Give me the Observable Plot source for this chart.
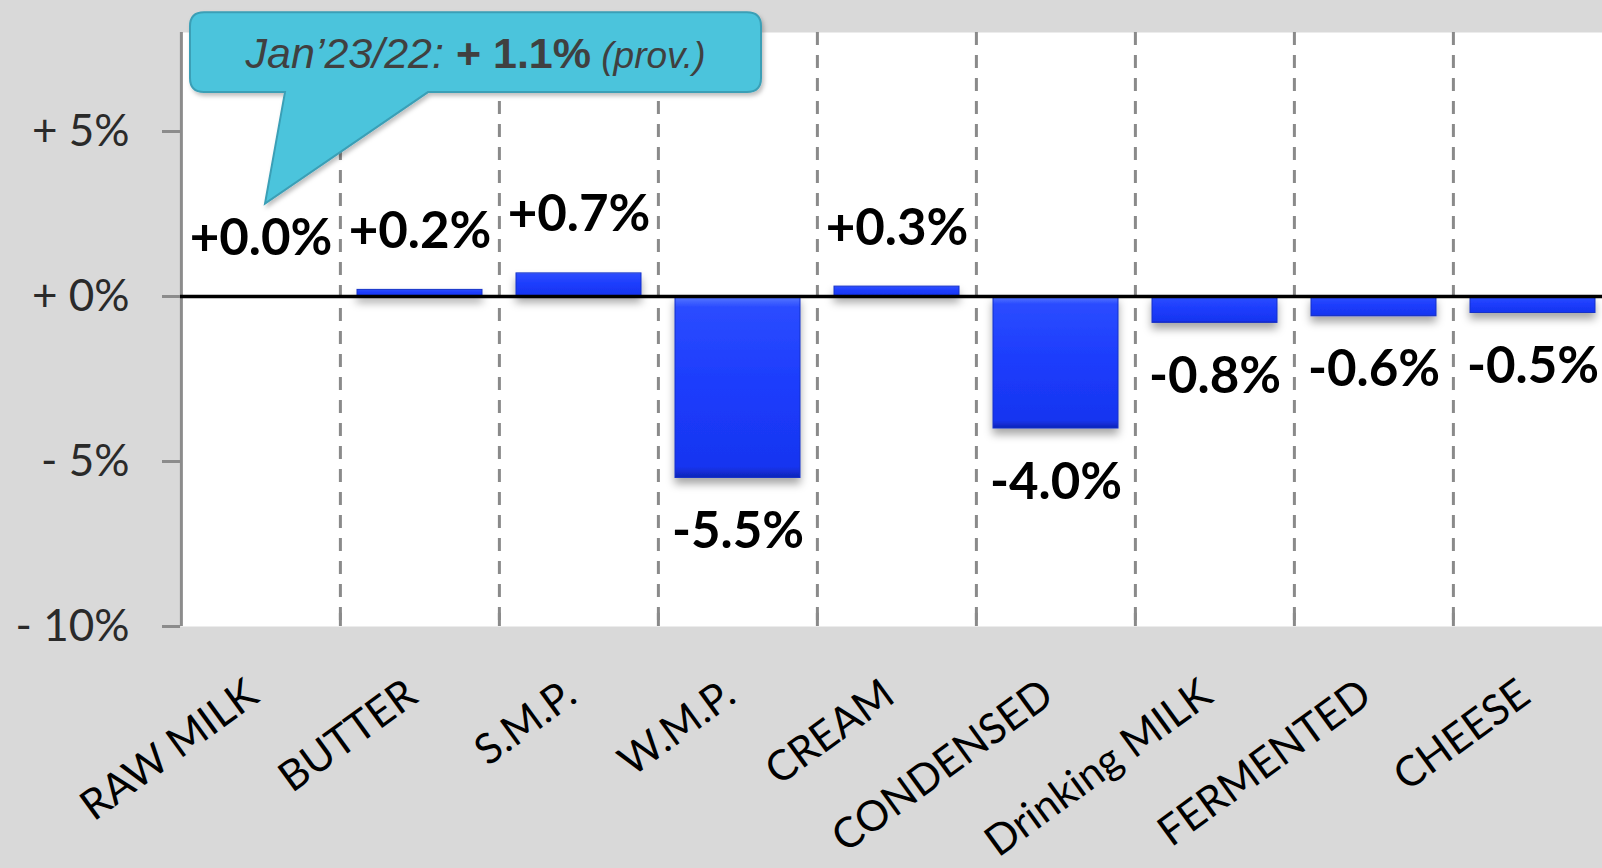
<!DOCTYPE html>
<html><head><meta charset="utf-8">
<script src="https://cdn.jsdelivr.net/npm/d3@7"></script>
<script src="https://cdn.jsdelivr.net/npm/@observablehq/plot@0.6"></script>
<style>
html,body{margin:0;padding:0;background:#d9d9d9;overflow:hidden;width:1602px;height:868px;}
#chart svg{display:block;max-width:none !important;}
</style></head><body><div id="chart"></div>
<script>
// ---- data ----
const categories = ["RAW MILK","BUTTER","S.M.P.","W.M.P.","CREAM","CONDENSED","Drinking MILK","FERMENTED","CHEESE"];
const changes = [0.0, 0.2, 0.7, -5.5, 0.3, -4.0, -0.8, -0.6, -0.5];
const yTicks = [-10, -5, 0, 5];
const yTickLabels = ["- 10%", "- 5%", "+ 0%", "+ 5%"];
const calloutParts = [
  {text: "Jan\u201923/22: ", italic: true, bold: false, small: false},
  {text: "+ 1.1%", italic: false, bold: true, small: false},
  {text: " (prov.)", italic: true, bold: false, small: true}
];
const calloutTarget = {category: "RAW MILK", value: 2.8};

// ---- build ----
const data = categories.map((c, i) => ({category: c, value: changes[i]}));
const W = 1613, H = 868, mL = 180, mT = 32, mB = 242;
const step = (W - mL) / categories.length;
const fmt = v => (v >= 0 ? "+" : "") + v.toFixed(1) + "%";
const grid = "#8a8a8a";

const plot = Plot.plot({
  width: W, height: H,
  marginLeft: mL, marginRight: 0, marginTop: mT, marginBottom: mB,
  style: {background: "transparent", fontFamily: "Lato, sans-serif", overflow: "visible", maxWidth: "none"},
  x: {domain: categories, padding: 0, axis: null},
  y: {domain: [-10, 8], axis: null},
  marks: [
    Plot.frame({fill: "white", stroke: null}),
    Plot.ruleX(categories.slice(1), {x: d => d, dx: -step / 2, stroke: grid, strokeWidth: 3, strokeDasharray: "13,10"}),
    Plot.ruleX(categories.slice(1), {x: d => d, dx: -step / 2, y1: -10, y2: -9.6, stroke: grid, strokeWidth: 3}),
    Plot.ruleX(categories.slice(0, 1), {x: d => d, dx: -step / 2, stroke: "#8c8c8c", strokeWidth: 3}),
    Plot.axisY({ticks: yTicks, tickFormat: d => yTickLabels[yTicks.indexOf(d)], tickSize: 18, tickPadding: 33,
      fontSize: 44, stroke: "#8c8c8c", strokeWidth: 3, fill: "#2a2a2a", label: null}),
    Plot.barY(data, {x: "category", y: "value", insetLeft: 17, insetRight: 17,
      fill: "url(#barGrad)", stroke: "#1430c8", strokeWidth: 1}),
    Plot.ruleY([0], {stroke: "black", strokeWidth: 3.5}),
    Plot.text(data.filter(d => d.value >= 0), {x: "category", y: "value", text: d => fmt(d.value),
      lineAnchor: "bottom", dy: -42, fontSize: 51, fontWeight: "bold", fill: "black"}),
    Plot.text(data.filter(d => d.value < 0), {x: "category", y: "value", text: d => fmt(d.value),
      lineAnchor: "bottom", dy: 70, fontSize: 51, fontWeight: "bold", fill: "black"}),
    Plot.text(categories, {x: d => d, frameAnchor: "bottom", dy: 74, rotate: -36,
      textAnchor: "end", lineAnchor: "bottom", fontSize: 42, fill: "black"})
  ]
});

const svg = d3.select(plot);
svg.style("max-width", "none");
const defs = svg.insert("defs", ":first-child");
const g = defs.append("linearGradient").attr("id", "barGrad").attr("x1", 0).attr("y1", 0).attr("x2", 0).attr("y2", 1);
[[0, "#5a7bff"], [0.06, "#2b4cff"], [0.5, "#1c3cfc"], [0.94, "#1735f0"], [1, "#0e24b8"]]
  .forEach(([o, c]) => g.append("stop").attr("offset", o).attr("stop-color", c));
const sh = defs.append("filter").attr("id", "shadow").attr("x", "-20%").attr("y", "-20%").attr("width", "140%").attr("height", "160%");
sh.append("feDropShadow").attr("dx", 0).attr("dy", 6).attr("stdDeviation", 4).attr("flood-color", "#000").attr("flood-opacity", 0.35);
const sh2 = defs.append("filter").attr("id", "cshadow").attr("x", "-10%").attr("y", "-10%").attr("width", "120%").attr("height", "130%");
sh2.append("feDropShadow").attr("dx", 2).attr("dy", 3).attr("stdDeviation", 2).attr("flood-color", "#000").attr("flood-opacity", 0.25);
svg.selectAll('g[aria-label="bar"]').attr("filter", "url(#shadow)");

// ---- callout annotation (anchored to the scales) ----
const xs = plot.scale("x"), ys = plot.scale("y");
const left = xs.apply(calloutTarget.category);
const x0 = left + 9, x1 = left + 580, y0 = ys.apply(8.6), y1 = ys.apply(6.18), r = 14;
const ta = left + 104, tb = left + 247, tipx = left + 84, tipy = ys.apply(calloutTarget.value);
const path = `M${x0 + r},${y0} H${x1 - r} Q${x1},${y0} ${x1},${y0 + r} V${y1 - r} Q${x1},${y1} ${x1 - r},${y1} H${tb} L${tipx},${tipy} L${ta},${y1} H${x0 + r} Q${x0},${y1} ${x0},${y1 - r} V${y0 + r} Q${x0},${y0} ${x0 + r},${y0} Z`;
const cg = svg.append("g").attr("aria-label", "callout");
cg.append("path").attr("d", path).attr("fill", "#4bc4dc").attr("stroke", "#3a9fb6").attr("stroke-width", 2).attr("filter", "url(#cshadow)");
const t = cg.append("text").attr("x", (x0 + x1) / 2).attr("y", y0 + 56).attr("text-anchor", "middle")
  .attr("font-family", "'Liberation Sans', Arial, sans-serif").attr("font-size", 43).attr("fill", "#404040");
calloutParts.forEach(p => t.append("tspan").text(p.text)
  .attr("font-style", p.italic ? "italic" : "normal")
  .attr("font-weight", p.bold ? "bold" : "normal")
  .attr("font-size", p.small ? 37 : 43));

document.getElementById("chart").appendChild(plot);
</script></body></html>
